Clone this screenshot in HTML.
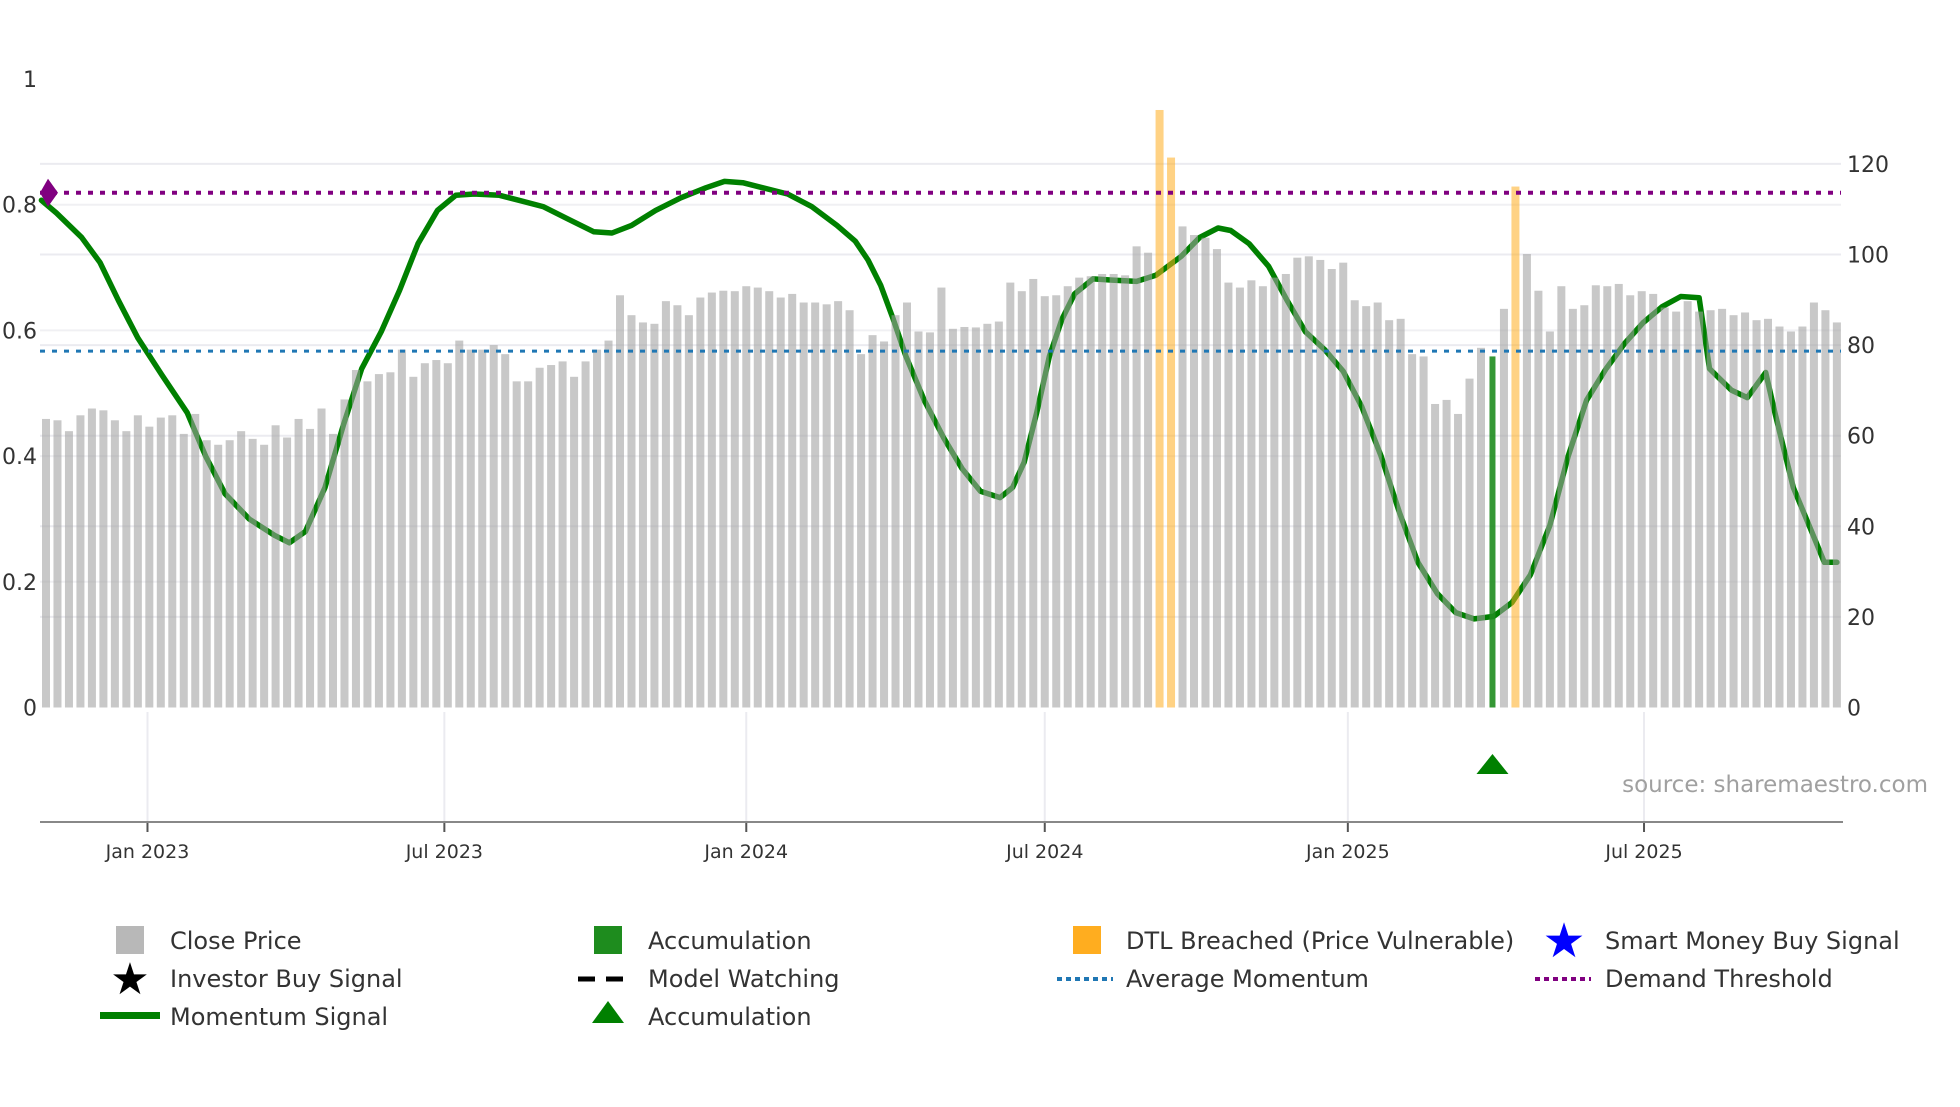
<!DOCTYPE html>
<html><head><meta charset="utf-8"><style>
html,body{margin:0;padding:0;background:#fff;}
svg text{font-family:"DejaVu Sans","Liberation Sans",sans-serif;}
</style></head><body>
<svg id="chart" width="1960" height="1102" viewBox="0 0 1960 1102" xmlns="http://www.w3.org/2000/svg">
<g id="grid"></g>
<g id="lineLayer"></g>
<g id="bars"></g>
<g id="refs"></g>
<g id="axes"></g>
<text x="1928" y="792" text-anchor="end" font-size="23" fill="#a0a0a0">source: sharemaestro.com</text>
<g id="legend" font-size="24" fill="#333">
 <g><rect x="116" y="926" width="28" height="28" fill="#b8b8b8"/><text x="170" y="949">Close Price</text></g>
 <g><text x="130" y="994" font-size="44" text-anchor="middle" fill="#000">★</text><text x="170" y="987">Investor Buy Signal</text></g>
 <g><rect x="100" y="1012" width="60" height="7" fill="#008000"/><text x="170" y="1025">Momentum Signal</text></g>
 <g><rect x="594" y="926" width="28" height="28" fill="#1e8c1e"/><text x="648" y="949">Accumulation</text></g>
 <g><line x1="578" y1="979" x2="634" y2="979" stroke="#000" stroke-width="5" stroke-dasharray="17,11"/><text x="648" y="987">Model Watching</text></g>
 <g><polygon points="608,1001 624,1023 592,1023" fill="#008000"/><text x="648" y="1025">Accumulation</text></g>
 <g><rect x="1073" y="926" width="28" height="28" fill="#ffad1f"/><text x="1126" y="949">DTL Breached (Price Vulnerable)</text></g>
 <g><line x1="1057" y1="979" x2="1113" y2="979" stroke="#1f77b4" stroke-width="4" stroke-dasharray="5,4"/><text x="1126" y="987">Average Momentum</text></g>
 <g><text x="1564" y="957" font-size="48" text-anchor="middle" fill="#0000ff">★</text><text x="1605" y="949">Smart Money Buy Signal</text></g>
 <g><line x1="1535" y1="979" x2="1591" y2="979" stroke="#800080" stroke-width="4" stroke-dasharray="5,4"/><text x="1605" y="987">Demand Threshold</text></g>
</g>
</svg>
<script>
const prices = [63.7,63.4,61,64.5,66,65.6,63.4,61,64.5,62,64,64.5,60.4,64.8,59,58,59,61,59.3,58,62.3,59.6,63.7,61.5,66,60.4,68,74.5,72,73.6,74,79,73,76,76.7,76,81,79,79,80,78,72,72,75,75.6,76.4,73,76.4,79,81,91,86.6,85,84.7,89.7,88.8,86.6,90.5,91.6,92,91.9,93,92.7,91.9,90.5,91.3,89.4,89.4,89,89.7,87.7,78,82.2,80.8,86.6,89.4,83,82.8,92.7,83.6,84,83.9,84.7,85.2,93.8,91.9,94.6,90.8,91,93,94.9,95.2,95.7,95.7,95.4,101.8,100.4,131.9,121.4,106.2,104.3,103.7,101.2,93.8,92.7,94.3,93,94.9,95.7,99.3,99.6,98.8,96.8,98.2,89.9,88.6,89.4,85.5,85.8,78,77.5,67,67.9,64.8,72.6,79.4,77.5,88,115,100.1,92,83,93,88,88.8,93.2,93,93.5,91,91.9,91.3,88.3,87.4,89.7,87.4,87.7,88,86.6,87.2,85.5,85.8,84.1,83,84.1,89.4,87.7,85];
const dtlIdx = [97,98,128];
const accumIdx = [126];
const momIdx = [-0.4,0.9,3.1,4.7,6.3,8,10.1,12.3,13.9,15.6,17.7,19.9,21.2,22.6,24.3,25.9,27.5,29.2,30.8,32.4,34.1,35.7,37.3,39.5,41.2,43.3,45.5,47.7,49.3,51,53.1,55.3,57.5,59.1,60.7,62.4,64.6,66.7,68.9,70.5,71.6,72.7,73.8,74.9,76.5,78.2,79.8,81.4,83.1,84.2,85.2,86.3,87.4,88.5,89.6,91.2,92.9,95,96.7,98.9,100.5,102.1,103.2,104.8,106.5,108.1,109.7,111.4,113,114.6,116.3,117.9,119.5,121.2,122.8,124.4,126.1,127.7,129.3,131,132.6,134.2,135.9,137.5,139.1,140.8,142.4,144,144.9,146.8,148.2,149.8,150.6,152.2,153.8,154.9,156];
const momVal = [.807,.787,.748,.708,.648,.588,.529,.469,.400,.340,.300,.274,.262,.280,.350,.449,.539,.598,.664,.738,.791,.815,.817,.815,.807,.797,.777,.757,.755,.767,.791,.811,.827,.837,.835,.827,.817,.797,.767,.742,.712,.672,.618,.559,.489,.429,.380,.344,.334,.350,.390,.469,.559,.618,.658,.682,.680,.678,.688,.718,.748,.763,.759,.738,.702,.648,.598,.569,.535,.479,.400,.310,.231,.181,.151,.141,.145,.167,.211,.290,.400,.489,.539,.579,.612,.638,.654,.652,.539,.505,.493,.533,.469,.350,.280,.231,.231];
const avgMomentum = [0.567];
const demandThreshold = [0.819];
const leftTicks = [0,0.2,0.4,0.6,0.8,1];
const leftTickLabels = ["0","0.2","0.4","0.6","0.8","1"];
const rightTicks = [0,20,40,60,80,100,120];
const dateTickWeeks = [8.84,34.7,61.0,87.0,113.4,139.2];
const dateTickLabels = ["Jan 2023","Jul 2023","Jan 2024","Jul 2024","Jan 2025","Jul 2025"];
const accumMarkerIdx = [126];

const NS="http://www.w3.org/2000/svg";
const X0=40,X1=1841,Y0=707.5,AXY=822;
const xS=i=>46+i*11.48;
const yL=v=>Y0-v*628.5;
const yR=v=>Y0-v*4.53;
function el(tag,attrs,parent){const e=document.createElementNS(NS,tag);for(const k in attrs)e.setAttribute(k,attrs[k]);parent.appendChild(e);return e;}
const grid=document.getElementById('grid'),bars=document.getElementById('bars'),refs=document.getElementById('refs'),axes=document.getElementById('axes'),lineLayer=document.getElementById('lineLayer');

rightTicks.forEach(t=>{if(t>0){const g=el('line',{x1:X0,x2:X1,y1:yR(t),y2:yR(t),stroke:'#ebebf0','stroke-width':2},grid);

}
const tx=el('text',{x:1847,y:yR(t)+8,'font-size':22,fill:'#333'},axes);tx.textContent=t;

});
leftTicks.forEach((t,k)=>{if(t>0&&t<1){const g=el('line',{x1:X0,x2:X1,y1:yL(t),y2:yL(t),stroke:'#f0f0f3','stroke-width':2},grid);

}
const tx=el('text',{x:37,y:yL(t)+8,'font-size':22,fill:'#333','text-anchor':'end'},axes);tx.textContent=leftTickLabels[k];

});
dateTickWeeks.forEach((w,k)=>{const x=xS(w);
const g=el('line',{x1:x,x2:x,y1:712,y2:AXY,stroke:'#ebebf0','stroke-width':2},grid);


const tk=el('line',{x1:x,x2:x,y1:AXY,y2:AXY+10,stroke:'#555','stroke-width':2},axes);


const tx=el('text',{x:x,y:858,'font-size':19,fill:'#333','text-anchor':'middle'},axes);tx.textContent=dateTickLabels[k];

});
const ax=el('line',{x1:X0,x2:1843,y1:AXY,y2:AXY,stroke:'#888','stroke-width':2},axes);



let d='';momIdx.forEach((w,k)=>{d+=(k?'L':'M')+xS(w).toFixed(1)+','+yL(momVal[k]).toFixed(1);});
const ml=el('path',{d:d,fill:'none',stroke:'#008000','stroke-width':5.5,'stroke-linejoin':'round','stroke-linecap':'round'},lineLayer);



prices.forEach((p,i)=>{
 const isD=dtlIdx.includes(i),isA=accumIdx.includes(i);
 const fill=isD?'#ffad1f':isA?'#1e8c1e':'#a0a0a0';
 const op=isD?0.55:isA?0.9:0.58;
 const w=isA?6:8;
 const r=el('rect',{x:xS(i)-w/2,y:yR(p),width:w,height:Y0-yR(p),fill:fill,'fill-opacity':op},bars);
 
 
});

const dl=el('line',{x1:X0,x2:X1,y1:yL(demandThreshold[0]),y2:yL(demandThreshold[0]),stroke:'#800080','stroke-width':4,'stroke-dasharray':'5,7'},refs);


const al=el('line',{x1:X0,x2:X1,y1:yL(avgMomentum[0]),y2:yL(avgMomentum[0]),stroke:'#1f77b4','stroke-width':3,'stroke-dasharray':'5,7'},refs);


const dy=yL(demandThreshold[0]);
const dm=el('polygon',{points:`${X0+8},${dy-14} ${X0+18},${dy} ${X0+8},${dy+14} ${X0},${dy}`,fill:'#800080'},refs);


accumMarkerIdx.forEach(i=>{const x=xS(i);
const t=el('polygon',{points:`${x},${754} ${x+16},${774} ${x-16},${774}`,fill:'#008000'},refs);

});
</script>
</body></html>
